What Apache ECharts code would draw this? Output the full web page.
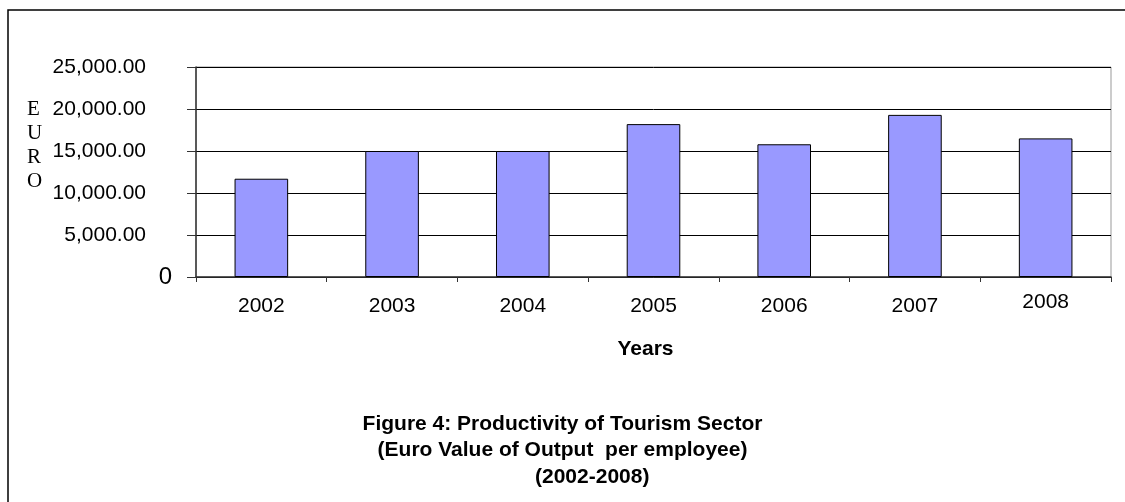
<!DOCTYPE html>
<html>
<head>
<meta charset="utf-8">
<script src="https://cdn.jsdelivr.net/npm/echarts@6/dist/echarts.min.js"></script>
<style>
  html, body { margin: 0; padding: 0; background: #fff; }
  #chart { width: 1125px; height: 502px; }
</style>
</head>
<body>
<div id="chart"></div>
<script>
// data
var years = ['2002', '2003', '2004', '2005', '2006', '2007', '2008'];
var productivity = [11700, 15000, 15000, 18200, 15800, 19300, 16500];
var titleLines = [
    'Figure 4: Productivity of Tourism Sector',
    '(Euro Value of Output  per employee)',
    '(2002-2008)'
];

var font = '"Liberation Sans", Arial, sans-serif';

var chart = echarts.init(document.getElementById('chart'));

chart.setOption({
    animation: false,
    backgroundColor: '#fff',
    textStyle: { fontFamily: font },
    title: [
        { text: titleLines[0], left: 'center', top: 409, textStyle: { fontSize: 21, fontWeight: 'bold', color: '#000', fontFamily: font } },
        { text: titleLines[1], left: 'center', top: 435, textStyle: { fontSize: 21, fontWeight: 'bold', color: '#000', fontFamily: font } },
        { text: titleLines[2], left: 530, top: 462, textStyle: { fontSize: 21, fontWeight: 'bold', color: '#000', fontFamily: font } }
    ],
    grid: {
        left: 196, right: 14, top: 67, bottom: 225,
        show: true, borderColor: '#999', borderWidth: 1, backgroundColor: 'transparent'
    },
    xAxis: {
        type: 'category',
        data: years.map(function (y, i) {
            // last label sits a bit higher in the original
            return i === years.length - 1 ? { value: y, textStyle: { lineHeight: 12 } } : y;
        }),
        name: 'Years',
        nameLocation: 'middle',
        nameGap: 62,
        nameTextStyle: { fontSize: 21, fontWeight: 'bold', color: '#000', fontFamily: font, verticalAlign: 'top', padding: [0, 16, 0, 0] },
        axisLine: { lineStyle: { color: '#333', width: 1.5 } },
        axisTick: { show: true, length: 5, lineStyle: { color: '#333' } },
        axisLabel: { fontSize: 21, color: '#000', margin: 19, fontFamily: font },
        splitLine: { show: false }
    },
    yAxis: {
        type: 'value',
        min: 0,
        max: 25000,
        interval: 5000,
        axisLine: { show: true, lineStyle: { color: '#333', width: 1.5 } },
        axisTick: { show: true, length: 9, lineStyle: { color: '#333' } },
        axisLabel: {
            margin: 24,
            color: '#000',
            formatter: function (v) {
                if (v === 0) return '{z|0}';
                return '{a|' + v.toLocaleString('en-US', { minimumFractionDigits: 2, maximumFractionDigits: 2 }) + '}';
            },
            rich: {
                a: { fontSize: 21, fontFamily: font, color: '#000', padding: [0, 26, 0, 0] },
                z: { fontSize: 24, fontFamily: font, color: '#000' }
            }
        },
        splitLine: { show: true, lineStyle: { color: '#000', width: 1 } }
    },
    series: [
        {
            type: 'bar',
            data: productivity,
            barWidth: '41%',
            itemStyle: { color: '#9999ff', borderColor: '#000', borderWidth: 1 }
        }
    ],
    graphic: [
        {
            type: 'rect',
            shape: { x: 8, y: 10, width: 1200, height: 600 },
            style: { fill: 'none', stroke: '#000', lineWidth: 1.5 },
            silent: true
        },
        {
            type: 'text',
            left: 27,
            top: 97,
            style: {
                text: 'E\nU\nR\nO',
                font: '21px "Liberation Serif", "Times New Roman", serif',
                lineHeight: 24,
                fill: '#000',
                align: 'center'
            }
        }
    ]
});
</script>
</body>
</html>
